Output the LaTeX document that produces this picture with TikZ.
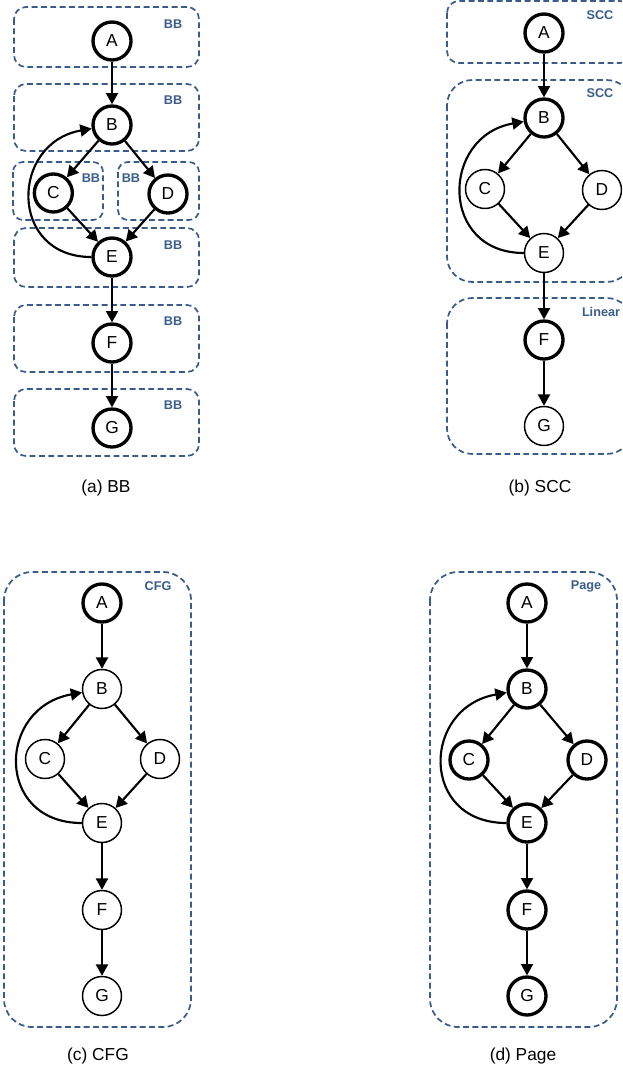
\documentclass[tikz,border=0pt]{standalone}
\usepackage{fontspec}
\setmainfont{Liberation Sans}
\usepackage{tikz}
\usetikzlibrary{positioning,arrows.meta}

\definecolor{regionblue}{RGB}{58,92,140}

\begin{document}
\begin{tikzpicture}[x=0.75pt,y=0.75pt,on grid,>={Triangle[length=8.5pt,width=9pt]}]
    \tikzstyle{block}=[circle, draw, fill=white, line width=1.1pt, minimum size=29.25pt, inner sep=0pt, font=\fontsize{13}{15}\selectfont]
    \tikzstyle{hot}=[block, line width=2.5pt, minimum size=28.5pt]
    \tikzstyle{flow}=[->, line width=1.6pt]
    \tikzstyle{region}=[draw=regionblue, line width=1.3pt, dash pattern=on 4.4pt off 2.6pt]
    \tikzstyle{tag}=[text=regionblue, inner sep=0pt, font=\fontsize{9.5}{11}\selectfont\bfseries]
    \tikzstyle{caption}=[anchor=base, inner sep=0pt, font=\fontsize{13}{15}\selectfont]

    \useasboundingbox (0,0) rectangle (622,-1067);
    \clip (0,0) rectangle (622,-1067);

    % (a) one region per basic block
    \draw[region, rounded corners=9pt]   (14,-7)    rectangle (199,-67);
    \draw[region, rounded corners=9pt]   (14,-84)   rectangle (199,-151);
    \draw[region, rounded corners=7.5pt] (13,-162)  rectangle (103,-220);
    \draw[region, rounded corners=7.5pt] (118,-162) rectangle (199,-220);
    \draw[region, rounded corners=9pt]   (14,-228)  rectangle (199,-287);
    \draw[region, rounded corners=9pt]   (14,-305)  rectangle (199,-372);
    \draw[region, rounded corners=9pt]   (14,-389)  rectangle (199,-456);
    \node[tag] (bbTagA) at (173,-24)  {BB};
    \node[tag] (bbTagB) at (173,-100) {BB};
    \node[tag] (bbTagC) at (91,-178)  {BB};
    \node[tag] (bbTagD) at (131,-178) {BB};
    \node[tag] (bbTagE) at (173,-245) {BB};
    \node[tag] (bbTagF) at (173,-321) {BB};
    \node[tag] (bbTagG) at (173,-405) {BB};

    \node[hot] (bbA) at (112,-41)                   {A};
    \node[hot] (bbB) [below = 63pt of bbA]           {B};
    \node[hot] (bbC) [below left = 51pt and 44pt of bbB]  {C};
    \node[hot] (bbD) [below right = 51.75pt and 42pt of bbB] {D};
    \node[hot] (bbE) [below = 99pt of bbB]           {E};
    \node[hot] (bbF) [below = 64.5pt of bbE]         {F};
    \node[hot] (bbG) [below = 63.75pt of bbF]        {G};

    \path[flow]
    (bbA) edge (bbB)
    (bbB) edge (bbC)
    (bbB) edge (bbD)
    (bbC) edge (bbE)
    (bbD) edge (bbE)
    (bbE) edge [out=180, in=190, looseness=1.65] (bbB)
    (bbE) edge (bbF)
    (bbF) edge (bbG)
    ;
    \node[caption] (capBB) at (106,-492) {(a) BB};

    % (b) strongly connected components
    \draw[region, rounded corners=9pt]  (447,-1)   rectangle (632,-63);
    \draw[region, rounded corners=19pt] (447,-80)  rectangle (632,-282);
    \draw[region, rounded corners=19pt] (447,-298) rectangle (632,-454);
    \node[tag] (sccTagA) at (600,-15)  {SCC};
    \node[tag] (sccTagB) at (600,-93)  {SCC};
    \node[tag] (sccTagF) at (601,-312) {Linear};

    \node[hot]   (sccA) at (544,-33)                      {A};
    \node[hot]   (sccB) [below = 63.75pt of sccA]          {B};
    \node[block] (sccC) [below left = 53.25pt and 44.25pt of sccB] {C};
    \node[block] (sccD) [below right = 54pt and 43.5pt of sccB]    {D};
    \node[block] (sccE) [below = 101.25pt of sccB]         {E};
    \node[hot]   (sccF) [below = 65.25pt of sccE]          {F};
    \node[block] (sccG) [below = 64.5pt of sccF]           {G};

    \path[flow]
    (sccA) edge (sccB)
    (sccB) edge (sccC)
    (sccB) edge (sccD)
    (sccC) edge (sccE)
    (sccD) edge (sccE)
    (sccE) edge [out=180, in=190, looseness=1.65] (sccB)
    (sccE) edge (sccF)
    (sccF) edge (sccG)
    ;
    \node[caption] (capSCC) at (540,-492) {(b) SCC};

    % (c) whole control flow graph
    \draw[region, rounded corners=21pt] (4,-572) rectangle (191,-1027);
    \node[tag] (cfgTag) at (158,-586) {CFG};

    \node[hot]   (cfgA) at (102,-603)                     {A};
    \node[block] (cfgB) [below = 64.5pt of cfgA]           {B};
    \node[block] (cfgC) [below left = 52.5pt and 42.75pt of cfgB] {C};
    \node[block] (cfgD) [below right = 52.5pt and 43.5pt of cfgB] {D};
    \node[block] (cfgE) [below = 100.5pt of cfgB]          {E};
    \node[block] (cfgF) [below = 65.25pt of cfgE]          {F};
    \node[block] (cfgG) [below = 64.5pt of cfgF]           {G};

    \path[flow]
    (cfgA) edge (cfgB)
    (cfgB) edge (cfgC)
    (cfgB) edge (cfgD)
    (cfgC) edge (cfgE)
    (cfgD) edge (cfgE)
    (cfgE) edge [out=180, in=190, looseness=1.7] (cfgB)
    (cfgE) edge (cfgF)
    (cfgF) edge (cfgG)
    ;
    \node[caption] (capCFG) at (98,-1060) {(c) CFG};

    % (d) page granularity
    \draw[region, rounded corners=21pt] (430,-572) rectangle (617,-1027);
    \node[tag] (pageTag) at (586,-586) {Page};

    \node[hot] (pageA) at (527,-603)                      {A};
    \node[hot] (pageB) [below = 64.5pt of pageA]           {B};
    \node[hot] (pageC) [below left = 53.25pt and 43.5pt of pageB] {C};
    \node[hot] (pageD) [below right = 53.25pt and 45pt of pageB]  {D};
    \node[hot] (pageE) [below = 100.5pt of pageB]          {E};
    \node[hot] (pageF) [below = 65.25pt of pageE]          {F};
    \node[hot] (pageG) [below = 64.5pt of pageF]           {G};

    \path[flow]
    (pageA) edge (pageB)
    (pageB) edge (pageC)
    (pageB) edge (pageD)
    (pageC) edge (pageE)
    (pageD) edge (pageE)
    (pageE) edge [out=180, in=190, looseness=1.7] (pageB)
    (pageE) edge (pageF)
    (pageF) edge (pageG)
    ;
    \node[caption] (capPage) at (523,-1060) {(d) Page};
\end{tikzpicture}
\end{document}
